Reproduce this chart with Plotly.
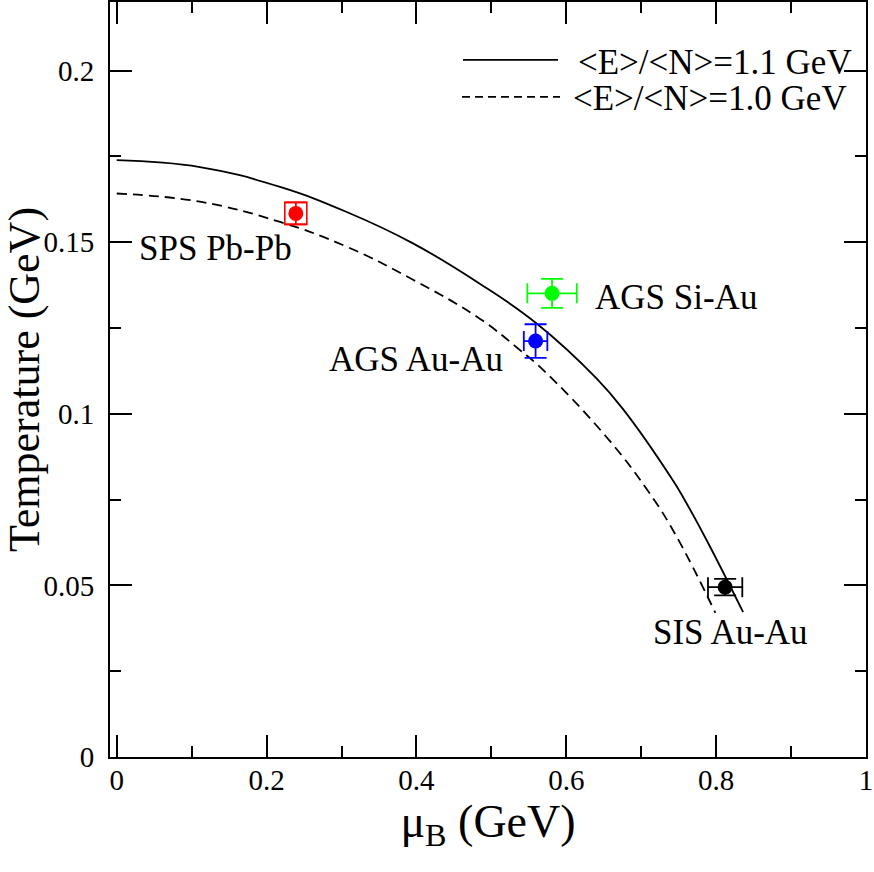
import plotly.graph_objects as go

# freeze-out curves
mu_solid = [0.0, 0.111, 0.218, 0.307, 0.396, 0.484, 0.560, 0.640, 0.676, 0.742, 0.758, 0.787, 0.836]
T_solid = [0.1739, 0.1719, 0.1661, 0.1588, 0.1496, 0.1380, 0.1264, 0.1104, 0.1013, 0.0807, 0.0749, 0.0633, 0.0422]

mu_dashed = [0.0, 0.111, 0.218, 0.307, 0.396, 0.484, 0.538, 0.569, 0.653, 0.711, 0.747, 0.799]
T_dashed = [0.1642, 0.1618, 0.1559, 0.1487, 0.1390, 0.1278, 0.1186, 0.1128, 0.0934, 0.0769, 0.0643, 0.0420]

# data points
pt_names = ["SPS Pb-Pb", "AGS Si-Au", "AGS Au-Au", "SIS Au-Au"]
pt_mu = [0.239, 0.581, 0.559, 0.812]
pt_T = [0.1584, 0.1351, 0.1212, 0.0495]
pt_mu_err = [0.0, 0.033, 0.0157, 0.0229]
pt_T_err = [0.0032, 0.0042, 0.0049, 0.0024]
pt_colors = ["#ff0000", "#00ff00", "#0000ff", "#000000"]

# label positions (centre of text)
lab_mu = [0.1317, 0.7466, 0.3988, 0.8188]
lab_T = [0.1483, 0.1339, 0.1157, 0.0362]

legend_labels = ["&lt;E&gt;/&lt;N&gt;=1.1 GeV", "&lt;E&gt;/&lt;N&gt;=1.0 GeV"]

W, H = 874, 872
L, R, T, B = 110, 866, 2, 757.5
FONT = "Liberation Serif, Times New Roman, serif"


def px(xp):
    return (xp - L) / (R - L)


def py(yp):
    return (B - yp) / (B - T)


fig = go.Figure()

fig.add_trace(go.Scatter(x=mu_solid, y=T_solid, mode="lines", line_shape="spline",
                         line=dict(color="black", width=1.8, smoothing=1.2), showlegend=False))
fig.add_trace(go.Scatter(x=mu_dashed, y=T_dashed, mode="lines", line_shape="spline",
                         line=dict(color="black", width=1.8, dash="10px,6px", smoothing=1.2),
                         showlegend=False))

for i in range(len(pt_names)):
    c = pt_colors[i]
    fig.add_trace(go.Scatter(
        x=[pt_mu[i]], y=[pt_T[i]], mode="markers",
        marker=dict(symbol="circle", size=15, color=c),
        error_x=dict(type="data", array=[pt_mu_err[i]], color=c, thickness=1.8, width=10,
                     visible=pt_mu_err[i] > 0),
        error_y=dict(type="data", array=[pt_T_err[i]], color=c, thickness=1.8, width=11),
        showlegend=False))

# open square round the SPS point
fig.add_trace(go.Scatter(x=[pt_mu[0]], y=[pt_T[0]], mode="markers",
                         marker=dict(symbol="square-open", size=22, color=pt_colors[0],
                                     line=dict(width=1.6, color=pt_colors[0])),
                         showlegend=False))

for i in range(len(pt_names)):
    fig.add_annotation(x=lab_mu[i], y=lab_T[i], text=pt_names[i], showarrow=False,
                       xanchor="center", yanchor="middle",
                       font=dict(family=FONT, size=35, color="black"))

# hand made legend
fig.add_shape(type="line", xref="paper", yref="paper", x0=px(463), x1=px(558), y0=py(60), y1=py(60),
              line=dict(color="black", width=1.8))
fig.add_shape(type="line", xref="paper", yref="paper", x0=px(462), x1=px(560), y0=py(97), y1=py(97),
              line=dict(color="black", width=1.8, dash="8px,5px"))
fig.add_annotation(xref="paper", yref="paper", x=px(576), y=py(63), text=legend_labels[0],
                   showarrow=False, xanchor="left", yanchor="middle",
                   font=dict(family=FONT, size=35, color="black"))
fig.add_annotation(xref="paper", yref="paper", x=px(571), y=py(99), text=legend_labels[1],
                   showarrow=False, xanchor="left", yanchor="middle",
                   font=dict(family=FONT, size=35, color="black"))

axis_common = dict(
    showline=True, linewidth=2, linecolor="black", mirror="allticks",
    ticks="inside", ticklen=22, tickwidth=2, tickcolor="black",
    showgrid=False, zeroline=False,
    tickfont=dict(family=FONT, size=29, color="black"),
)

fig.update_xaxes(range=[-0.009, 1.0], tick0=0, dtick=0.2,
                 minor=dict(dtick=0.1, ticks="inside", ticklen=11, tickwidth=2, tickcolor="black", showgrid=False),
                 ticklabelstandoff=-4,
                 title=dict(text="μ<sub>B</sub> (GeV)", font=dict(family=FONT, size=46, color="black"), standoff=0),
                 **axis_common)
fig.update_yaxes(range=[0, 0.22], tick0=0, dtick=0.05,
                 minor=dict(dtick=0.025, ticks="inside", ticklen=11, tickwidth=2, tickcolor="black", showgrid=False),
                 ticklabelstandoff=8,
                 title=dict(text="Temperature (GeV)", font=dict(family=FONT, size=44, color="black"), standoff=2),
                 **axis_common)

fig.update_layout(width=W, height=H,
                  margin=dict(l=L, r=W - R, t=T, b=H - B, autoexpand=False),
                  paper_bgcolor="white", plot_bgcolor="white", showlegend=False)

# drop the default page margin so the figure sits at the window corner
fig.write_html("out.html", config={"displayModeBar": False},
               post_script="document.body.style.margin='0';")
